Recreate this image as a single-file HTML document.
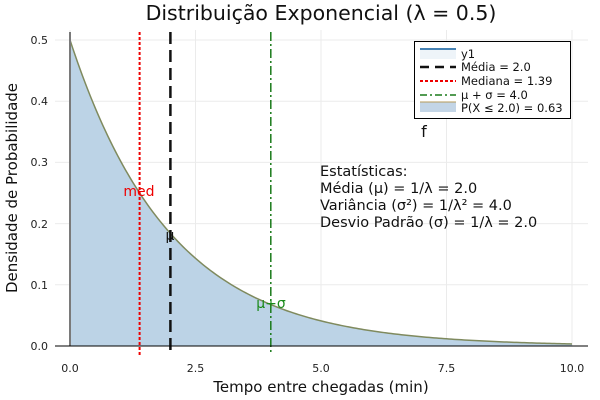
<!DOCTYPE html>
<html><head><meta charset="utf-8"><style>body{margin:0;background:#fff}svg{display:block}text{font-family:"DejaVu Sans","Liberation Sans",sans-serif}</style></head><body>
<svg width="600" height="400" viewBox="0 0 600 400">
<g stroke="#ebebeb" stroke-width="1">
<line x1="70" y1="30" x2="70" y2="346"/><line x1="195.5" y1="30" x2="195.5" y2="346"/><line x1="321" y1="30" x2="321" y2="346"/><line x1="446.5" y1="30" x2="446.5" y2="346"/><line x1="572" y1="30" x2="572" y2="346"/>
<line x1="55" y1="40" x2="588" y2="40"/><line x1="55" y1="101.2" x2="588" y2="101.2"/><line x1="55" y1="162.4" x2="588" y2="162.4"/><line x1="55" y1="223.6" x2="588" y2="223.6"/><line x1="55" y1="284.8" x2="588" y2="284.8"/>
</g>
<script>
var pts=[];for(var i=0;i<=200;i++){var x=i*0.05;pts.push((70+x*50.2).toFixed(2)+","+(346-0.5*Math.exp(-0.5*x)*612).toFixed(2));}
var s=document.currentScript.parentNode;var ns="http://www.w3.org/2000/svg";
var f=document.createElementNS(ns,"path");f.setAttribute("d","M70,346 L"+pts.join(" L")+" L572,346 Z");f.setAttribute("fill","#bcd3e6");s.appendChild(f);
var l=document.createElementNS(ns,"path");l.setAttribute("d","M"+pts.join(" L"));l.setAttribute("fill","none");l.setAttribute("stroke","#7f8a5e");l.setAttribute("stroke-width","1.5");s.appendChild(l);
</script>
<line x1="70" y1="32" x2="70" y2="346" stroke="#7a7a7a" stroke-width="2"/>
<line x1="139.6" y1="32" x2="139.6" y2="355" stroke="#e00" stroke-width="2" stroke-dasharray="3,2"/>
<line x1="170.4" y1="32" x2="170.4" y2="355" stroke="#111" stroke-width="2.5" stroke-dasharray="12,6"/>
<line x1="270.8" y1="32" x2="270.8" y2="355" stroke="#1a7a1a" stroke-width="1.5" stroke-dasharray="9,3,2,3"/>
<line x1="55" y1="346" x2="588" y2="346" stroke="#000" stroke-width="1"/>
<g font-size="11" fill="#222" text-anchor="end">
<text x="48" y="44">0.5</text><text x="48" y="105">0.4</text><text x="48" y="166">0.3</text><text x="48" y="228">0.2</text><text x="48" y="289">0.1</text><text x="48" y="350">0.0</text></g>
<g font-size="11" fill="#222" text-anchor="middle">
<text x="70" y="372">0.0</text><text x="195.5" y="372">2.5</text><text x="321" y="372">5.0</text><text x="446.5" y="372">7.5</text><text x="572" y="372">10.0</text></g>
<text x="321" y="392" font-size="15" text-anchor="middle" fill="#111">Tempo entre chegadas (min)</text>
<text transform="translate(17,188) rotate(-90)" font-size="15" text-anchor="middle" fill="#111">Densidade de Probabilidade</text>
<text x="321" y="20" font-size="20.5" text-anchor="middle" fill="#111">Distribuição Exponencial (λ = 0.5)</text>
<text x="139" y="196" font-size="14" fill="#e00" text-anchor="middle">med</text>
<text x="170" y="240" font-size="14" fill="#111" text-anchor="middle">μ</text>
<text x="271" y="308" font-size="14" fill="#1a8a1a" text-anchor="middle">μ+σ</text>
<text x="424" y="137" font-size="16" fill="#111" text-anchor="middle">f</text>
<g font-size="14.5" fill="#111"><text x="320" y="176">Estatísticas:</text><text x="320" y="193">Média (μ) = 1/λ = 2.0</text><text x="320" y="210">Variância (σ²) = 1/λ² = 4.0</text><text x="320" y="227">Desvio Padrão (σ) = 1/λ = 2.0</text></g>
<rect x="414.5" y="41.5" width="156" height="77" fill="#fff" stroke="#000" stroke-width="1"/>
<g font-size="11.5" fill="#111">
<rect x="420" y="49" width="36" height="10" fill="#eef4f9"/><line x1="420" y1="49" x2="456" y2="49" stroke="#4682b4" stroke-width="2"/><text x="461" y="58">y1</text>
<line x1="420" y1="67" x2="456" y2="67" stroke="#111" stroke-width="2.5" stroke-dasharray="9,6"/><text x="461" y="71">Média = 2.0</text>
<line x1="420" y1="81" x2="456" y2="81" stroke="#e00" stroke-width="2" stroke-dasharray="3,2"/><text x="461" y="85">Mediana = 1.39</text>
<line x1="420" y1="95" x2="456" y2="95" stroke="#1a7a1a" stroke-width="1.5" stroke-dasharray="7,3,2,3"/><text x="461" y="99">μ + σ = 4.0</text>
<rect x="420" y="102" width="36" height="10" fill="#c3d5e6"/><line x1="420" y1="102" x2="456" y2="102" stroke="#b59a5a" stroke-width="1"/><text x="461" y="112">P(X ≤ 2.0) = 0.63</text>
</g>
</svg></body></html>
